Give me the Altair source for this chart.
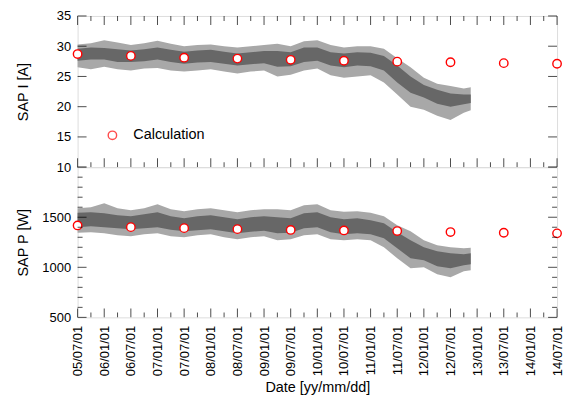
import altair as alt
import pandas as pd

FONT = "Liberation Sans"

# ---- data ----
calc_dates = [2005.5, 2006.5, 2007.5, 2008.5, 2009.5, 2010.5, 2011.5, 2012.5, 2013.5, 2014.5]
calc_current = [28.7, 28.4, 28.1, 27.95, 27.75, 27.6, 27.45, 27.35, 27.2, 27.1]
calc_power = [1418, 1401, 1391, 1381, 1373, 1368, 1362, 1352, 1345, 1339]

meas_dates = [2005.5, 2005.75, 2006.0, 2006.25, 2006.5, 2006.75, 2007.0, 2007.25,
              2007.5, 2007.75, 2008.0, 2008.25, 2008.5, 2008.75, 2009.0, 2009.25,
              2009.5, 2009.75, 2010.0, 2010.25, 2010.5, 2010.75, 2011.0, 2011.25,
              2011.5, 2011.75, 2012.0, 2012.25, 2012.5, 2012.75, 2012.88]
i_upper = [30.3, 30.5, 31.0, 30.6, 30.2, 30.5, 30.9, 30.4, 30.0, 30.2, 30.3, 30.0,
           29.8, 30.0, 30.2, 30.4, 30.0, 30.8, 31.0, 30.2, 29.8, 30.0, 30.0, 29.6,
           28.0, 26.5, 24.8, 23.8, 23.4, 23.0, 23.2]
i_lower = [26.5, 26.2, 26.6, 26.2, 26.0, 26.3, 26.4, 26.0, 25.8, 26.0, 26.2, 25.8,
           25.5, 25.8, 26.0, 25.0, 25.3, 26.0, 26.3, 25.2, 24.8, 25.0, 25.2, 24.0,
           22.0, 20.0, 19.5, 18.5, 17.8, 19.0, 19.4]
i_core_hi = [29.6, 29.8, 29.7, 29.5, 29.3, 29.5, 29.8, 29.4, 29.1, 29.3, 29.4, 29.1,
             28.8, 29.0, 29.2, 29.2, 29.0, 29.8, 29.8, 29.0, 28.8, 29.0, 28.9, 28.4,
             26.8, 25.0, 23.6, 22.8, 22.2, 22.0, 22.0]
i_core_lo = [27.6, 27.8, 27.8, 27.4, 27.4, 27.5, 27.8, 27.4, 27.1, 27.3, 27.4, 27.1,
             26.8, 27.0, 27.2, 26.6, 26.7, 27.4, 27.6, 26.8, 26.5, 26.8, 26.7, 26.0,
             24.0, 22.3, 21.5, 20.5, 20.0, 20.4, 20.6]
p_upper = [1590, 1600, 1640, 1590, 1570, 1590, 1630, 1580, 1560, 1580, 1590, 1570,
           1550, 1570, 1580, 1580, 1570, 1620, 1630, 1570, 1555, 1560, 1545, 1510,
           1420, 1360, 1270, 1220, 1200, 1190, 1195]
p_lower = [1345, 1350, 1340, 1320, 1310, 1330, 1340, 1310, 1300, 1320, 1330, 1300,
           1280, 1300, 1310, 1270, 1280, 1320, 1330, 1280, 1270, 1280, 1270, 1200,
           1090, 990, 1000, 930, 900, 960, 970]
p_core_hi = [1545, 1550, 1540, 1520, 1510, 1530, 1550, 1510, 1490, 1510, 1520, 1500,
             1480, 1500, 1510, 1500, 1490, 1540, 1550, 1500, 1480, 1490, 1470, 1440,
             1350, 1270, 1200, 1160, 1140, 1130, 1140]
p_core_lo = [1400, 1410, 1400, 1390, 1380, 1390, 1400, 1375, 1360, 1370, 1380, 1360,
             1340, 1355, 1365, 1340, 1345, 1390, 1400, 1350, 1330, 1340, 1330, 1290,
             1190, 1090, 1070, 1010, 990, 1020, 1030]

label_dates = [2005.5 + 0.5 * k for k in range(19)]
quarter_dates = [2005.5 + 0.25 * k for k in range(1, 36, 2)]

W = 482
H_TOP = 152
H_BOT = 151
LONG = 9
SHORT = 5

xscale = alt.Scale(domain=[2005.5, 2014.5], nice=False, zero=False)


def panel(up, lo, chi, clo, calc, ydomain, ylabels, yticks_major, yticks_minor,
          ytitle, height, show_x, top_ticks, legend):
    yscale = alt.Scale(domain=ydomain, nice=False, zero=False)
    yaxis = alt.Axis(values=ylabels, ticks=False, domain=False, grid=False, format="d",
                     labelFont=FONT, labelFontSize=13, labelColor="black",
                     labelPadding=7, labelFlush=False, labelOverlap=False,
                     title=ytitle, titleFont=FONT, titleFontSize=14.5,
                     titleFontWeight="normal", titleColor="black", titleX=-47)
    if show_x:
        xaxis = alt.Axis(values=label_dates, ticks=False, domain=False, grid=False,
                         labelExpr="(floor(datum.value) % 100 < 10 ? '0' : '') + (floor(datum.value) % 100) + (datum.value - floor(datum.value) > 0.25 ? '/07/01' : '/01/01')",
                         labelAngle=-90, labelFont=FONT, labelFontSize=13,
                         labelColor="black", labelPadding=8, labelFlush=False,
                         labelOverlap=False, title="Date [yy/mm/dd]", titleFont=FONT,
                         titleFontSize=14.5, titleFontWeight="normal",
                         titleColor="black", titlePadding=5)
    else:
        xaxis = None

    X = alt.X("x:Q", scale=xscale, axis=xaxis)

    def Y(field):
        return alt.Y(field, type="quantitative", scale=yscale, axis=yaxis)

    bd = pd.DataFrame({"x": meas_dates, "up": up, "lo": lo, "chi": chi, "clo": clo})
    outer = alt.Chart(bd).mark_area(color="#a8a8a8").encode(x=X, y=Y("up"), y2="lo")
    inner = alt.Chart(bd).mark_area(color="#676767").encode(x=X, y=Y("chi"), y2="clo")

    cd = pd.DataFrame({"x": calc_dates, "y": calc})
    pts = alt.Chart(cd).mark_point(shape="circle", filled=False, fill="white",
                                   fillOpacity=1, stroke="#ff0000", strokeWidth=1.4,
                                   size=72, opacity=1).encode(x=X, y=Y("y"))

    layers = [outer, inner, pts]

    # x tick marks (inward): long at labelled half-years, short at quarters between
    xl = pd.DataFrame({"x": label_dates})
    xs = pd.DataFrame({"x": quarter_dates})
    for df, L in ((xl, LONG), (xs, SHORT)):
        layers.append(alt.Chart(df).mark_tick(orient="vertical", color="black",
                                              thickness=1, size=L).encode(
            x=X, y=alt.value(height - L / 2)))
        if top_ticks:
            layers.append(alt.Chart(df).mark_tick(orient="vertical", color="black",
                                                  thickness=1, size=L).encode(
                x=X, y=alt.value(L / 2)))

    # y tick marks (inward, both sides)
    for vals, L in ((yticks_major, LONG), (yticks_minor, SHORT)):
        if not vals:
            continue
        yd = pd.DataFrame({"y": vals})
        layers.append(alt.Chart(yd).mark_tick(orient="horizontal", color="black",
                                              thickness=1, size=L).encode(
            y=Y("y"), x=alt.value(L / 2)))
        layers.append(alt.Chart(yd).mark_tick(orient="horizontal", color="black",
                                              thickness=1, size=L).encode(
            y=Y("y"), x=alt.value(W - L / 2)))

    if legend:
        ld = pd.DataFrame({"name": ["Calculation"]})
        layers.append(alt.Chart(ld).mark_point(shape="circle", filled=False, fill="white",
                                               stroke="#ff0000", strokeWidth=1.4,
                                               size=72).encode(
            x=alt.value(35), y=alt.value(120)))
        layers.append(alt.Chart(ld).mark_text(align="left", baseline="middle", font=FONT,
                                              fontSize=14.5, color="black").encode(
            x=alt.value(56), y=alt.value(120), text="name:N"))

    return alt.layer(*layers).properties(width=W, height=height)


top = panel(i_upper, i_lower, i_core_hi, i_core_lo, calc_current,
            [10, 35], [10, 15, 20, 25, 30, 35], [10, 15, 20, 25, 30, 35], [],
            "SAP I [A]", H_TOP, False, True, True)

bot = panel(p_upper, p_lower, p_core_hi, p_core_lo, calc_power,
            [500, 2000], [500, 1000, 1500], [500, 1000, 1500, 2000],
            [v for v in range(600, 2000, 100) if v % 500 != 0],
            "SAP P [W]", H_BOT, True, False, False)

chart = alt.vconcat(top, bot, spacing=0, bounds="flush").properties(
    padding={"left": 15, "top": 8, "right": 0, "bottom": 0}
).configure_view(stroke="black", strokeWidth=1).configure(background="white")

chart.save("out.html", embed_options={"renderer": "svg", "actions": False})
